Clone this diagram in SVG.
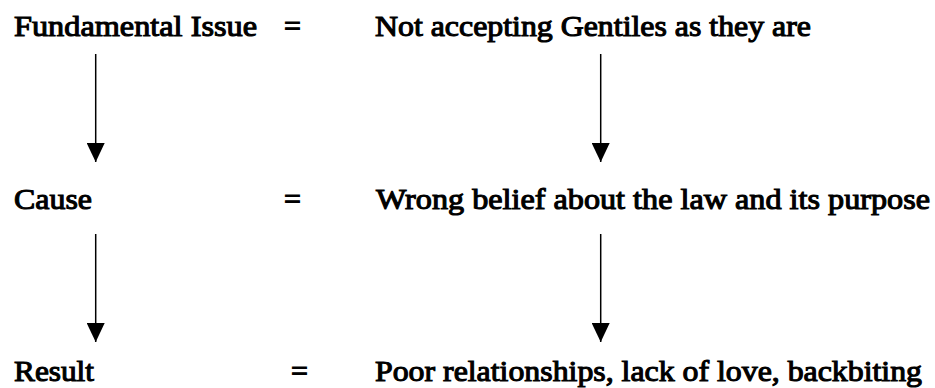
<svg xmlns="http://www.w3.org/2000/svg" width="935" height="388" viewBox="0 0 935 388">
<defs>
<style>
.c{stroke:#000;stroke-width:1.5;fill:none}
</style>
<marker id="ah" viewBox="0 0 19 18" refX="19" refY="9" markerWidth="19" markerHeight="18" markerUnits="userSpaceOnUse" orient="auto">
<path d="M0,0 L19,9 L0,18 z" fill="#000"/>
</marker>
</defs>
<rect width="935" height="388" fill="#fff"/>
<g font-family="Liberation Serif" font-size="30" fill="#000" stroke="#000" stroke-width="1.1">
<g id="row1">
<g id="fundamental"><text x="14" y="36" textLength="243" lengthAdjust="spacingAndGlyphs">Fundamental Issue</text></g>
<g id="eq1"><text x="284" y="36">=</text></g>
<g id="notaccepting"><text x="375" y="36" textLength="436" lengthAdjust="spacingAndGlyphs">Not accepting Gentiles as they are</text></g>
</g>
<g id="row2">
<g id="cause"><text x="14" y="209" textLength="78" lengthAdjust="spacingAndGlyphs">Cause</text></g>
<g id="eq2"><text x="284" y="209">=</text></g>
<g id="wrongbelief"><text x="376" y="209" textLength="554" lengthAdjust="spacingAndGlyphs">Wrong belief about the law and its purpose</text></g>
</g>
<g id="row3">
<g id="result"><text x="14" y="381" textLength="80" lengthAdjust="spacingAndGlyphs">Result</text></g>
<g id="eq3"><text x="291" y="381">=</text></g>
<g id="poor"><text x="375" y="381" textLength="547" lengthAdjust="spacingAndGlyphs">Poor relationships, lack of love, backbiting</text></g>
</g>
</g>
<g id="connectors">
<line class="c" x1="95.7" y1="54" x2="95.7" y2="162" marker-end="url(#ah)"/>
<line class="c" x1="600.7" y1="54" x2="600.7" y2="162" marker-end="url(#ah)"/>
<line class="c" x1="95.7" y1="234" x2="95.7" y2="342" marker-end="url(#ah)"/>
<line class="c" x1="600.7" y1="234" x2="600.7" y2="342" marker-end="url(#ah)"/>
</g>
</svg>
